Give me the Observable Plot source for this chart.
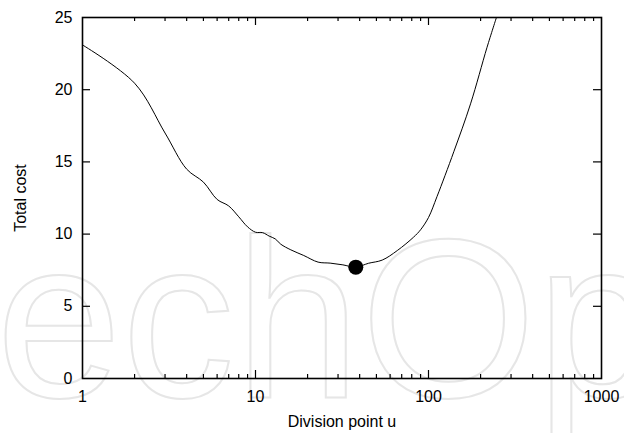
<!DOCTYPE html>
<html>
<head>
<meta charset="utf-8">
<script src="https://cdn.jsdelivr.net/npm/d3@7"></script>
<script src="https://cdn.jsdelivr.net/npm/@observablehq/plot@0.6"></script>
<style>
  html, body { margin: 0; padding: 0; background: white; }
  #chart { width: 624px; height: 433px; }
</style>
</head>
<body>
<div id="chart"></div>
<script>
// Curve: total cost vs division point u
const divisionPoint = [1, 2, 3, 4, 5, 6, 7, 8, 9, 10, 11, 12, 13, 14, 16, 19, 23, 27, 32, 38, 45, 54, 66, 82, 90, 100, 112, 140, 175, 218, 247];
const totalCost     = [23.1, 20.45, 17.0, 14.5, 13.6, 12.4, 11.95, 11.2, 10.5, 10.13, 10.1, 9.86, 9.67, 9.3, 8.91, 8.52, 8.06, 7.99, 7.87, 7.71, 7.98, 8.2, 8.86, 9.79, 10.3, 11.15, 12.6, 15.7, 19.02, 22.94, 25.0];

// Minimum marker
const minimumU = [38];
const minimumCost = [7.71];

// Tick values
const xTickLabels = [1, 10, 100, 1000];
const xMajorTicks = [10, 100];
const xMinorTicks = [2, 3, 4, 5, 6, 7, 8, 9, 20, 30, 40, 50, 60, 70, 80, 90, 200, 300, 400, 500, 600, 700, 800, 900];
const yTickLabels = [0, 5, 10, 15, 20, 25];
const yInnerTicks = [5, 10, 15, 20];

const xLabel = "Division point u";
const yLabel = "Total cost";

const W = 624, H = 433;
const mL = 82, mR = 23, mT = 17, mB = 55;
const pw = W - mL - mR, ph = H - mT - mB;
const major = 8, minor = 4;

const data = divisionPoint.map((u, i) => ({u, c: totalCost[i]}));
const minData = minimumU.map((u, i) => ({u, c: minimumCost[i]}));

const plot = Plot.plot({
  width: W, height: H,
  marginLeft: mL, marginRight: mR, marginTop: mT, marginBottom: mB,
  style: {fontFamily: "'Liberation Sans', Arial, Helvetica, sans-serif", fontSize: "16px", background: "white", color: "black"},
  x: {type: "log", domain: [1, 1000]},
  y: {domain: [0, 25]},
  marks: [
    // inward ticks
    Plot.tickX(xMajorTicks, {x: d => d, insetTop: ph - major, stroke: "black", strokeWidth: 1.2}),
    Plot.tickX(xMajorTicks, {x: d => d, insetBottom: ph - major, stroke: "black", strokeWidth: 1.2}),
    Plot.tickX(xMinorTicks, {x: d => d, insetTop: ph - minor, stroke: "black", strokeWidth: 1.2}),
    Plot.tickX(xMinorTicks, {x: d => d, insetBottom: ph - minor, stroke: "black", strokeWidth: 1.2}),
    Plot.tickY(yInnerTicks, {y: d => d, insetRight: pw - major, stroke: "black", strokeWidth: 1.2}),
    Plot.tickY(yInnerTicks, {y: d => d, insetLeft: pw - major, stroke: "black", strokeWidth: 1.2}),
    Plot.axisX({ticks: xTickLabels, tickSize: 0, tickPadding: 12, tickFormat: d => String(d), label: null, fontSize: 16}),
    Plot.axisY({ticks: yTickLabels, tickSize: 0, tickPadding: 10, tickFormat: d => String(d), label: null, fontSize: 16}),
    Plot.line(data, {x: "u", y: "c", stroke: "black", strokeWidth: 1, curve: "catmull-rom", clip: true}),
    Plot.dot(minData, {x: "u", y: "c", r: 7.5, fill: "black", stroke: "none"}),
    Plot.frame({stroke: "black", strokeWidth: 1.6}),
    Plot.text([xLabel], {text: d => d, frameAnchor: "bottom", dy: 43, fontSize: 16, lineAnchor: "middle"}),
    Plot.text([yLabel], {text: d => d, frameAnchor: "left", dx: -62, rotate: -90, fontSize: 16, textAnchor: "middle", lineAnchor: "middle"})
  ]
});

// faint background watermark (decoration)
const svg = d3.select(plot);
svg.insert("text", ":first-child")
  .attr("x", -4).attr("y", 397)
  .attr("text-anchor", "start")
  .attr("font-family", "'Liberation Sans', Arial, sans-serif")
  .attr("font-size", 226)
  .attr("fill", "none")
  .attr("stroke", "#e6e6e6")
  .attr("stroke-width", 2)
  .text("echOpen");

document.getElementById("chart").appendChild(plot);
</script>
</body>
</html>
